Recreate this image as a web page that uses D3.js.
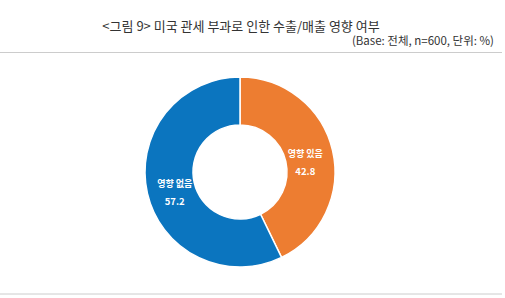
<!DOCTYPE html>
<html>
<head>
<meta charset="utf-8">
<script src="https://cdn.jsdelivr.net/npm/d3@7"></script>
<style>
  body { margin: 0; background: #fff; }
  text { font-family: "Noto Sans CJK KR", sans-serif; }
</style>
</head>
<body>
<div id="area1"></div>
<script>
// chart data
var categories = ["영향 있음", "영향 없음"];
var values = [42.8, 57.2];
var colors = ["#ED7D31", "#0B75BF"];

var title = "<그림 9> 미국 관세 부과로 인한 수출/매출 영향 여부";
var subtitle = "(Base: 전체, n=600, 단위: %)";

var width = 505, height = 298;
var cx = 240, cy = 172, outerR = 95, innerR = 47;

var svg = d3.select("#area1")
  .append("svg")
  .attr("width", width)
  .attr("height", height);

// title and base note
svg.append("text")
  .attr("x", 241).attr("y", 31)
  .attr("text-anchor", "middle")
  .attr("font-size", 13)
  .attr("fill", "#333")
  .text(title);

svg.append("text")
  .attr("x", 494).attr("y", 45)
  .attr("text-anchor", "end")
  .attr("font-size", 11.5)
  .attr("fill", "#333")
  .text(subtitle);

// rules
svg.append("line")
  .attr("x1", 0).attr("x2", 502).attr("y1", 52.5).attr("y2", 52.5)
  .attr("stroke", "#ccc").attr("stroke-width", 1);
svg.append("line")
  .attr("x1", 0).attr("x2", 502).attr("y1", 294).attr("y2", 294)
  .attr("stroke", "#ccc").attr("stroke-width", 1);

var pie = d3.pie().sort(null).value(function(d) { return d; });
var arc = d3.arc().innerRadius(innerR).outerRadius(outerR);
var labelArc = d3.arc().innerRadius(67).outerRadius(67);

var g = svg.append("g").attr("transform", "translate(" + cx + "," + cy + ")");
var slices = pie(values);

g.selectAll("path")
  .data(slices)
  .enter().append("path")
  .attr("d", arc)
  .attr("fill", function(d, i) { return colors[i]; })
  .attr("stroke", "#fff")
  .attr("stroke-width", 1.5);

var labels = g.selectAll(".lbl")
  .data(slices)
  .enter().append("g")
  .attr("class", "lbl")
  .attr("transform", function(d) {
    var c = labelArc.centroid(d);
    return "translate(" + c[0] + "," + c[1] + ")";
  });

labels.append("text")
  .attr("text-anchor", "middle")
  .attr("y", 0)
  .attr("font-size", 9)
  .attr("font-weight", "bold")
  .attr("fill", "#fff")
  .text(function(d, i) { return categories[i]; });

labels.append("text")
  .attr("text-anchor", "middle")
  .attr("y", 18)
  .attr("font-size", 9.5)
  .attr("font-weight", "bold")
  .attr("fill", "#fff")
  .text(function(d) { return d.data; });
</script>
</body>
</html>
